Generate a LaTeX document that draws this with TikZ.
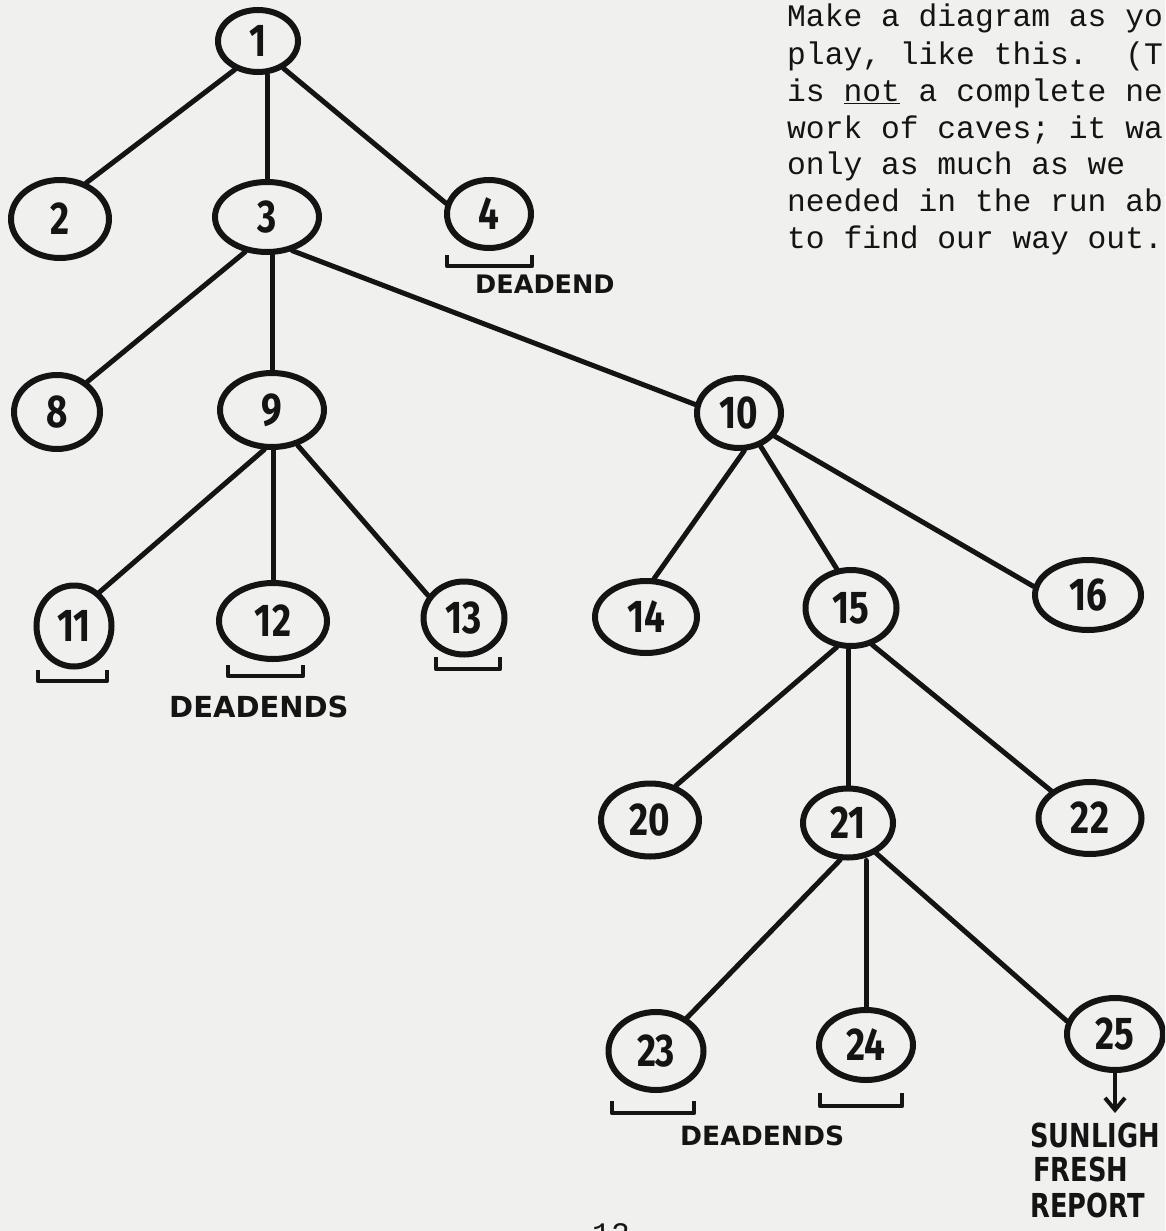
\documentclass[tikz,border=0pt]{standalone}
\usepackage{fontspec}
\setmonofont{Liberation Mono}
\newfontfamily\digitfont{Fira Sans}[FakeStretch=0.8]
\newfontfamily\notefont{DejaVu Sans}
\newfontfamily\tallnotefont{DejaVu Sans}[FakeStretch=0.78]
\usetikzlibrary{shapes.geometric,arrows.meta}
\definecolor{paper}{RGB}{240,240,238}
\definecolor{ink}{RGB}{20,20,20}
\begin{document}
\begin{tikzpicture}[x=1pt,y=-1pt,
  cave/.style={ellipse, draw=ink, line width=6pt, inner sep=0pt, text=ink,
    font=\digitfont\bfseries\fontsize{46}{46}\selectfont},
  link/.style={draw=ink, line width=5pt, line cap=round},
  bracket/.style={draw=ink, line width=4.5pt, line join=round},
  note/.style={text=ink, inner sep=0pt, anchor=west},
  exitnote/.style={note, font=\tallnotefont\bfseries\fontsize{33}{33}\selectfont},
  typed/.style={inner sep=0pt, anchor=base west, text=ink,
    font=\ttfamily\fontsize{31.3}{31.3}\selectfont}]
\useasboundingbox (0,0) rectangle (1165,1231);
\clip (0,0) rectangle (1165,1231);
\fill[paper] (0,0) rectangle (1165,1231);

% caves
\node[cave, minimum width=80pt,  minimum height=62pt] (n1)  at (258,41)   {1};
\node[cave, minimum width=98pt,  minimum height=78pt] (n2)  at (60,219)   {2};
\node[cave, minimum width=104pt, minimum height=70pt] (n3)  at (267,217)  {3};
\node[cave, minimum width=84pt,  minimum height=68pt] (n4)  at (489,214)  {4};
\node[cave, minimum width=86pt,  minimum height=74pt] (n8)  at (57,412)   {8};
\node[cave, minimum width=104pt, minimum height=74pt] (n9)  at (272,410)  {9};
\node[cave, minimum width=84pt,  minimum height=70pt] (n10) at (739,413)  {10};
\node[cave, minimum width=75pt,  minimum height=81pt] (n11) at (74,626)   {11};
\node[cave, minimum width=108pt, minimum height=76pt] (n12) at (273,621)  {12};
\node[cave, minimum width=81pt,  minimum height=73pt] (n13) at (464,618)  {13};
\node[cave, minimum width=102pt, minimum height=72pt] (n14) at (646,617)  {14};
\node[cave, minimum width=91pt,  minimum height=76pt] (n15) at (851,608)  {15};
\node[cave, minimum width=106pt, minimum height=70pt] (n16) at (1088,595) {16};
\node[cave, minimum width=98pt,  minimum height=73pt] (n20) at (650,820)  {20};
\node[cave, minimum width=90pt,  minimum height=69pt] (n21) at (848,823)  {21};
\node[cave, minimum width=103pt, minimum height=72pt] (n22) at (1090,818) {22};
\node[cave, minimum width=95pt,  minimum height=78pt] (n23) at (656,1051) {23};
\node[cave, minimum width=94pt,  minimum height=70pt] (n24) at (866,1045) {24};
\node[cave, minimum width=96pt,  minimum height=72pt] (n25) at (1115,1034) {25};

% passages, each leaving the lower rim of the upper cave
\draw[link] (n1.231) -- (n2.54);
\draw[link] (n3.north |- n1.south) -- (n3.north);
\draw[link] (n1.313) -- (n4.166);
\draw[link] (n3.238) -- (n8.45);
\draw[link] (n9.north |- n3.south) -- (n9.north);
\draw[link] (n3.307) -- (n10.169);
\draw[link] (n9.259) -- (n11.53);
\draw[link] (n12.north |- n9.south) -- (n12.north);
\draw[link] (n9.306) -- (n13.148);
\draw[link] (n10.278) -- (n14.78);
\draw[link] (n10.303) -- (n15.110);
\draw[link] (n10.327) -- (n16.171);
\draw[link] (n15.250) -- (n20.53);
\draw[link] (n21.north |- n15.south) -- (n21.north);
\draw[link] (n15.300) -- (n22.145);
\draw[link] (n21.258) -- (n23.47);
\draw[link] (n24.north |- n21.south) -- (n24.north);
\draw[link] (n21.313) -- (n25.165);

% dead-end brackets
\draw[bracket] (447,255) -- (447,266) -- (532,266) -- (532,255);
\draw[bracket] (38,670) -- (38,681) -- (107,681) -- (107,670);
\draw[bracket] (228,665) -- (228,676) -- (303,676) -- (303,665);
\draw[bracket] (436,657) -- (436,669) -- (500,669) -- (500,657);
\draw[bracket] (612,1101) -- (612,1113) -- (694,1113) -- (694,1101);
\draw[bracket] (820,1093) -- (820,1106) -- (902,1106) -- (902,1093);

% handwritten notes
\node[note, font=\notefont\bfseries\fontsize{25.5}{25.5}\selectfont] (dead4) at (475,284) {DEADEND};
\node[note, font=\notefont\bfseries\fontsize{29}{29}\selectfont] (dead9) at (169,707) {DEADENDS};
\node[note, font=\notefont\bfseries\fontsize{26.5}{26.5}\selectfont] (dead21) at (680,1136) {DEADENDS};

\coordinate (sun) at (1115,1113);
\draw[link, line width=4pt, -{Straight Barb[length=12pt,width=20pt,line width=4pt]}]
  (sun |- n25.south) -- (sun);
\node[exitnote] (out1) at (1030,1135) {SUNLIGH};
\node[exitnote] (out2) at (1033,1169) {FRESH};
\node[exitnote] (out3) at (1030,1205) {REPORT};

% typed paragraph
\node[typed] (t1) at (787,27)  {Make a diagram as yo};
\node[typed] (t2) at (787,64)  {play, like this.\ \ (T};
\node[typed] (t3) at (787,101) {is \underline{not} a complete ne};
\node[typed] (t4) at (787,138) {work of caves; it wa};
\node[typed] (t5) at (787,174) {only as much as we};
\node[typed] (t6) at (787,211) {needed in the run ab};
\node[typed] (t7) at (787,248) {to find our way out.};

% page number at the foot of the sheet
\node[typed, anchor=base] (page) at (611,1244) {12};
\end{tikzpicture}
\end{document}
